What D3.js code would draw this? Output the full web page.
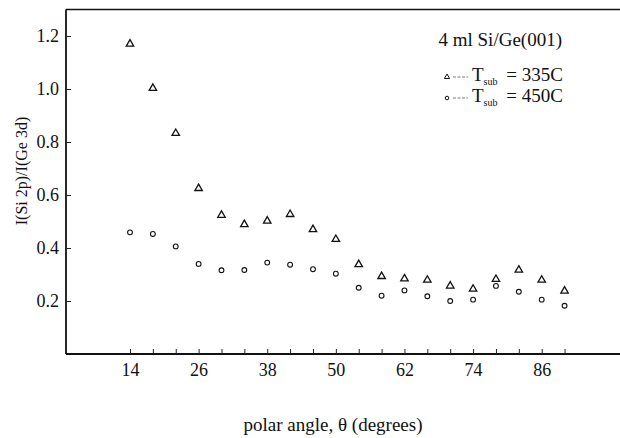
<!DOCTYPE html>
<html>
<head>
<meta charset="utf-8">
<script src="https://cdn.jsdelivr.net/npm/d3@7"></script>
<style>
  html, body { margin: 0; padding: 0; background: #fff; }
  svg { display: block; }
  text { font-family: "Liberation Serif", "Times New Roman", serif; fill: #111; }
</style>
</head>
<body>
<svg id="chart" width="620" height="438"></svg>
<script>
// ---- data ----
const angles = [14, 18, 22, 26, 30, 34, 38, 42, 46, 50, 54, 58, 62, 66, 70, 74, 78, 82, 86, 90];
const tsub335 = [1.170, 1.003, 0.833, 0.625, 0.524, 0.489, 0.502, 0.527, 0.470, 0.433,
                 0.338, 0.293, 0.284, 0.279, 0.257, 0.245, 0.282, 0.317, 0.279, 0.238];
const tsub450 = [0.459, 0.453, 0.406, 0.340, 0.316, 0.317, 0.345, 0.337, 0.320, 0.303,
                 0.250, 0.220, 0.240, 0.218, 0.200, 0.205, 0.257, 0.235, 0.205, 0.182];
const xTickValues = [14, 18, 22, 26, 30, 34, 38, 42, 46, 50, 54, 58, 62, 66, 70, 74, 78, 82, 86, 90];
const xTickLabels = [14, 26, 38, 50, 62, 74, 86];
const yTickValues = [0.2, 0.4, 0.6, 0.8, 1.0, 1.2];

const svg = d3.select("#chart");
const pLeft = 66, pRight = 620, pTop = 9.5, pBottom = 354;

const x = d3.scaleLinear().domain([14, 86]).range([130, 541.7]);
const y = d3.scaleLinear().domain([0, 1.3]).range([pBottom, pTop]);

// frame
svg.append("line").attr("x1", pLeft).attr("x2", pRight).attr("y1", pTop).attr("y2", pTop)
  .attr("stroke", "#111").attr("stroke-width", 1.6);

// axes
const yAxis = d3.axisLeft(y).tickValues(yTickValues).tickFormat(d3.format(".1f"))
  .tickSizeInner(-5).tickSizeOuter(0).tickPadding(7);
const gy = svg.append("g").attr("transform", `translate(${pLeft},0)`).call(yAxis);
gy.select(".domain").attr("d", `M0,${pTop}V${pBottom}`).attr("stroke", "#111").attr("stroke-width", 1.8);
gy.selectAll(".tick line").attr("stroke", "#222");
gy.selectAll(".tick text").attr("font-size", 18).attr("font-family", "Liberation Serif").attr("fill", "#111");

const xAxis = d3.axisBottom(x).tickValues(xTickValues)
  .tickFormat(d => xTickLabels.includes(d) ? d : "")
  .tickSizeInner(-5).tickSizeOuter(0).tickPadding(9);
const gx = svg.append("g").attr("transform", `translate(0,${pBottom})`).call(xAxis);
gx.select(".domain").attr("d", `M${pLeft},0H${pRight}`).attr("stroke", "#111").attr("stroke-width", 1.8);
gx.selectAll(".tick line").attr("stroke", "#222");
gx.selectAll(".tick text").attr("font-size", 18).attr("font-family", "Liberation Serif").attr("fill", "#111");

// axis titles
svg.append("text")
  .attr("transform", `translate(27,171) rotate(-90)`)
  .attr("text-anchor", "middle").attr("font-size", 16)
  .text("I(Si 2p)/I(Ge 3d)");
svg.append("text")
  .attr("x", 333).attr("y", 431).attr("text-anchor", "middle").attr("font-size", 19)
  .text("polar angle, \u03b8 (degrees)");

// data marks
const tri = d3.symbol().type(d3.symbolTriangle).size(24);
svg.append("g").selectAll("path").data(angles.map((a, i) => [a, tsub335[i]])).join("path")
  .attr("d", tri)
  .attr("transform", d => `translate(${x(d[0])},${y(d[1])})`)
  .attr("fill", "none").attr("stroke", "#111").attr("stroke-width", 1.3);

svg.append("g").selectAll("circle").data(angles.map((a, i) => [a, tsub450[i]])).join("circle")
  .attr("cx", d => x(d[0])).attr("cy", d => y(d[1])).attr("r", 2.4)
  .attr("fill", "none").attr("stroke", "#111").attr("stroke-width", 1.1);

// annotation + legend
svg.append("text").attr("x", 562).attr("y", 46).attr("text-anchor", "end").attr("font-size", 19)
  .text("4 ml Si/Ge(001)");

const legendRows = [
  { label: "= 335C", marker: "tri", yb: 81 },
  { label: "= 450C", marker: "circ", yb: 102 }
];
legendRows.forEach(r => {
  const g = svg.append("g");
  if (r.marker === "tri") {
    g.append("path").attr("d", d3.symbol().type(d3.symbolTriangle).size(12)())
      .attr("transform", `translate(447,${r.yb - 4})`)
      .attr("fill", "none").attr("stroke", "#111").attr("stroke-width", 1);
  } else {
    g.append("circle").attr("cx", 447).attr("cy", r.yb - 4).attr("r", 1.8)
      .attr("fill", "none").attr("stroke", "#111").attr("stroke-width", 1);
  }
  g.append("line").attr("x1", 453).attr("x2", 468).attr("y1", r.yb - 4).attr("y2", r.yb - 4)
    .attr("stroke", "#555").attr("stroke-width", 0.8).attr("stroke-dasharray", "3,1.5");
  const t = g.append("text").attr("x", 472).attr("y", r.yb).attr("font-size", 19);
  t.append("tspan").text("T");
  t.append("tspan").attr("dy", 4).attr("font-size", 10).text("sub");
  t.append("tspan").attr("dy", -4).attr("dx", 4).text(" " + r.label);
});
</script>
</body>
</html>
